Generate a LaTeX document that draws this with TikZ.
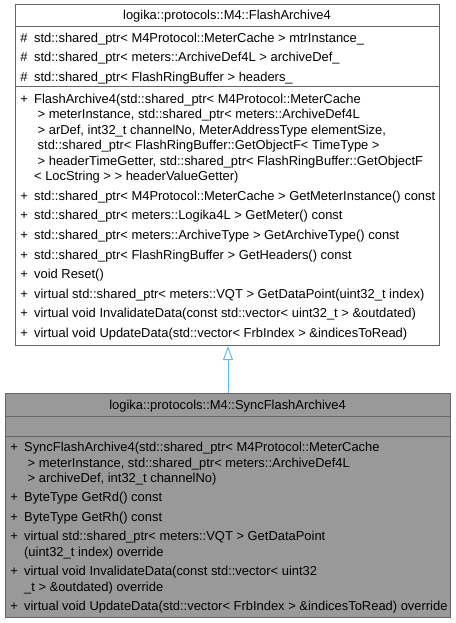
\documentclass[tikz,border=0pt]{standalone}
\usepackage{fontspec}
\setmainfont{Liberation Sans}
\usetikzlibrary{arrows.meta}
\definecolor{edgegray}{HTML}{666666}
\definecolor{fillgray}{HTML}{999999}
\definecolor{arrowblue}{HTML}{63B8FF}
\newcommand\mk[1]{\makebox[10.4pt][l]{#1}}
\newcommand\cind{\hspace*{10.4pt}}
\newcommand\cinds{\hspace*{10.4pt}\ }
\newcommand\txtline[4]{\node[txtstyle] (#1) at (#2,#3) {#4};}
\tikzset{
  classbox/.style={draw=edgegray, line width=0.75pt, inner sep=0pt, anchor=north west},
  sepline/.style={draw=edgegray, line width=0.75pt},
  txtstyle/.style={anchor=base west, inner sep=0pt, text=black},
  titlestyle/.style={anchor=base, inner sep=0pt, text=black},
  inherit/.style={draw=arrowblue, line width=0.75pt, -{Triangle[open, length=10.5pt, width=7.5pt]}}
}
\begin{document}
\begin{tikzpicture}[x=0.75pt, y=-0.75pt, font=\fontsize{9.7}{12}\selectfont]
\useasboundingbox (0,0) rectangle (455,623);
% base class box
\node[classbox, fill=white, minimum width=318pt, minimum height=255.75pt] (base) at (15,4) {};
\draw[sepline] (15,27) -- (439,27);
\draw[sepline] (15,87) -- (439,87);
\node[titlestyle] (basetitle) at (227,20) {logika::protocols::M4::FlashArchive4};
\txtline{a1}{20}{42.5}{\mk{\#}std::shared\_ptr< M4Protocol::MeterCache > mtrInstance\_}
\txtline{a2}{20}{62}{\mk{\#}std::shared\_ptr< meters::ArchiveDef4L > archiveDef\_}
\txtline{a3}{20}{81.5}{\mk{\#}std::shared\_ptr< FlashRingBuffer > headers\_}
\txtline{m1a}{20}{103.5}{\mk{+}FlashArchive4(std::shared\_ptr< M4Protocol::MeterCache}
\txtline{m1b}{20}{119}{\cinds{}> meterInstance, std::shared\_ptr< meters::ArchiveDef4L}
\txtline{m1c}{20}{134.5}{\cinds{}> arDef, int32\_t channelNo, MeterAddressType elementSize,}
\txtline{m1d}{20}{150}{\cinds{}std::shared\_ptr< FlashRingBuffer::GetObjectF< TimeType >}
\txtline{m1e}{20}{165.5}{\cinds{}> headerTimeGetter, std::shared\_ptr< FlashRingBuffer::GetObjectF}
\txtline{m1f}{20}{181}{\cind{}< LocString > > headerValueGetter)}
\txtline{m2}{20}{200.5}{\mk{+}std::shared\_ptr< M4Protocol::MeterCache > GetMeterInstance() const}
\txtline{m3}{20}{220}{\mk{+}std::shared\_ptr< meters::Logika4L > GetMeter() const}
\txtline{m4}{20}{239.5}{\mk{+}std::shared\_ptr< meters::ArchiveType > GetArchiveType() const}
\txtline{m5}{20}{259}{\mk{+}std::shared\_ptr< FlashRingBuffer > GetHeaders() const}
\txtline{m6}{20}{278.5}{\mk{+}void Reset()}
\txtline{m7}{20}{298}{\mk{+}virtual std::shared\_ptr< meters::VQT > GetDataPoint(uint32\_t index)}
\txtline{m8}{20}{317.5}{\mk{+}virtual void InvalidateData(const std::vector< uint32\_t > \&outdated)}
\txtline{m9}{20}{337}{\mk{+}virtual void UpdateData(std::vector< FrbIndex > \&indicesToRead)}
% derived class box
\node[classbox, fill=fillgray, minimum width=333.75pt, minimum height=168pt] (derived) at (5,393) {};
\draw[sepline] (5,416) -- (450,416);
\draw[sepline] (5,436) -- (450,436);
\node[titlestyle] (derivedtitle) at (227.5,409) {logika::protocols::M4::SyncFlashArchive4};
\txtline{d1a}{10}{451.5}{\mk{+}SyncFlashArchive4(std::shared\_ptr< M4Protocol::MeterCache}
\txtline{d1b}{10}{467}{\cinds{}> meterInstance, std::shared\_ptr< meters::ArchiveDef4L}
\txtline{d1c}{10}{482.5}{\cinds{}> archiveDef, int32\_t channelNo)}
\txtline{d2}{10}{501.5}{\mk{+}ByteType GetRd() const}
\txtline{d3}{10}{521}{\mk{+}ByteType GetRh() const}
\txtline{d4a}{10}{540.5}{\mk{+}virtual std::shared\_ptr< meters::VQT > GetDataPoint}
\txtline{d4b}{10}{556}{\cind{}(uint32\_t index) override}
\txtline{d5a}{10}{575.5}{\mk{+}virtual void InvalidateData(const std::vector< uint32}
\txtline{d5b}{10}{591}{\cind{}\_t > \&outdated) override}
\txtline{d6}{10}{610.5}{\mk{+}virtual void UpdateData(std::vector< FrbIndex > \&indicesToRead) override}
% inheritance arrow
\draw[inherit] (derived.north) -- (derived.north |- base.south);
\end{tikzpicture}
\end{document}
